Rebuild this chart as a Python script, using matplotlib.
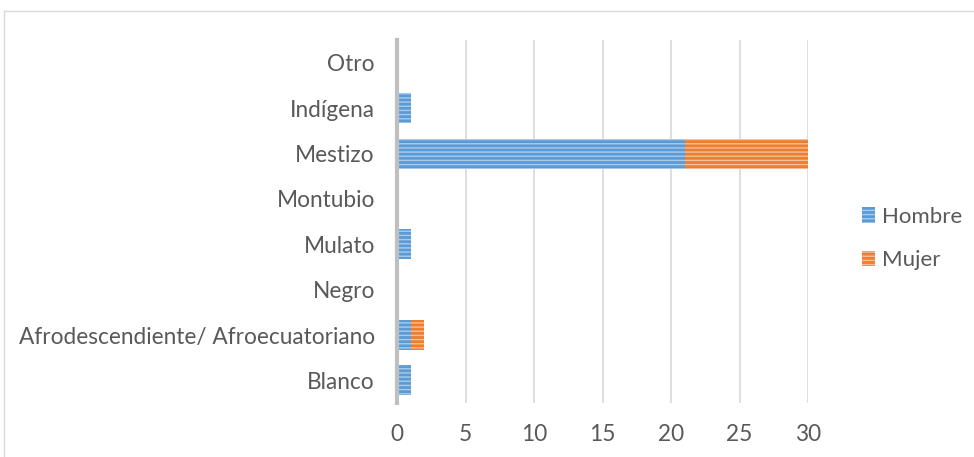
import numpy as np
import matplotlib.pyplot as plt
from matplotlib.lines import Line2D
from matplotlib.patches import Patch

plt.rcParams['font.family'] = ['Lato', 'DejaVu Sans']
plt.rcParams['hatch.linewidth'] = 1.0

categories = ['Blanco', 'Afrodescendiente/ Afroecuatoriano', 'Negro', 'Mulato',
              'Montubio', 'Mestizo', 'Indígena', 'Otro']
hombre = [1, 1, 0, 1, 0, 21, 1, 0]
mujer = [0, 1, 0, 0, 0, 9, 0, 0]
xticks = [0, 5, 10, 15, 20, 25, 30]

fig = plt.figure(figsize=(9.74, 4.57), dpi=100)
ax = fig.add_axes([0.4076, 0.118, 0.422, 0.794])

y = np.arange(len(categories))
blue = '#5B9BD5'
orange = '#ED7D31'
ax.barh(y, hombre, height=0.66, color=blue, edgecolor='#A9CBEB',
        hatch='----', linewidth=0, label='Hombre')
ax.barh(y, mujer, left=hombre, height=0.66, color=orange, edgecolor='#F7BE96',
        hatch='----', linewidth=0, label='Mujer')

ax.set_xlim(0, 30)
ax.set_ylim(-0.5, len(categories) - 0.5)
ax.set_xticks(xticks)
ax.set_yticks(y)
ax.set_yticklabels(categories)
ax.tick_params(length=0, labelsize=16.3, labelcolor='#595959')
ax.tick_params(axis='x', pad=15)
ax.tick_params(axis='y', pad=16)
ax.grid(axis='x', color='#D9D9D9', linewidth=1.2)
ax.set_axisbelow(True)
for s in ['top', 'right', 'bottom']:
    ax.spines[s].set_visible(False)
ax.spines['left'].set_color('#BFBFBF')
ax.spines['left'].set_linewidth(3)

handles = [Patch(facecolor=blue, edgecolor='#A9CBEB', hatch='----', linewidth=0),
           Patch(facecolor=orange, edgecolor='#F7BE96', hatch='----', linewidth=0)]
leg = fig.legend(handles, ['Hombre', 'Mujer'], loc='center left',
                 bbox_to_anchor=(0.885, 0.478), frameon=False, fontsize=16,
                 handlelength=0.6, handleheight=0.7, handletextpad=0.3,
                 labelspacing=1.05, labelcolor='#595959', borderpad=0,
                 borderaxespad=0)

# outer chart frame (partially visible)
fig.add_artist(Line2D([4 / 974, 4 / 974], [0, 1 - 11 / 457], color='#D9D9D9', linewidth=1))
fig.add_artist(Line2D([4 / 974, 1], [1 - 11 / 457, 1 - 11 / 457], color='#D9D9D9', linewidth=1))

fig.savefig('out.png', dpi=100)
